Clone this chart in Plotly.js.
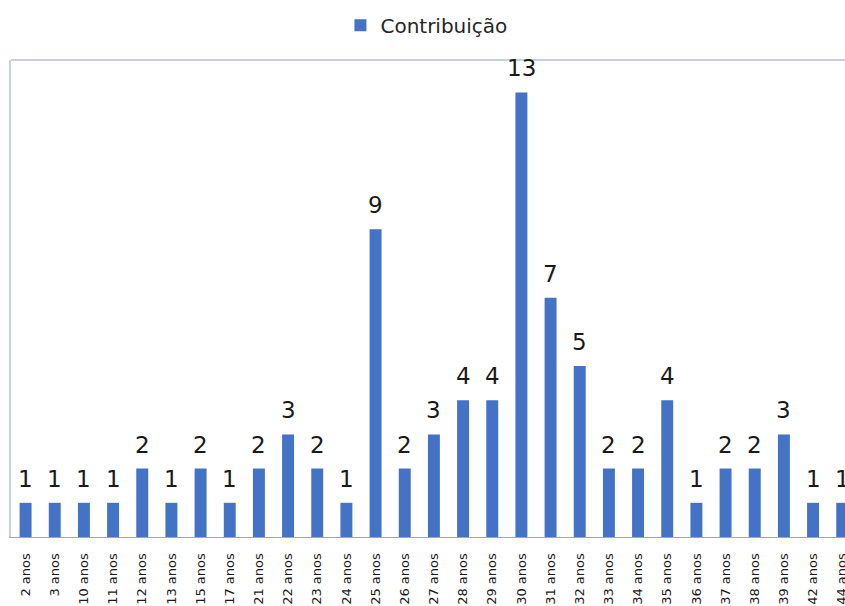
<!DOCTYPE html>
<html>
<head>
<meta charset="utf-8">
<script src="https://cdn.plot.ly/plotly-3.0.1.min.js"></script>
<style>html,body{margin:0;padding:0;background:#fff;overflow:hidden;}</style>
</head>
<body>
<div id="chart" style="width:845px;height:606px;"></div>
<script>
const categories = ["2 anos","3 anos","10 anos","11 anos","12 anos","13 anos","15 anos","17 anos","21 anos","22 anos","23 anos","24 anos","25 anos","26 anos","27 anos","28 anos","29 anos","30 anos","31 anos","32 anos","33 anos","34 anos","35 anos","36 anos","37 anos","38 anos","39 anos","42 anos","44 anos"];
const values = [1,1,1,1,2,1,2,1,2,3,2,1,9,2,3,4,4,13,7,5,2,2,4,1,2,2,3,1,1];
const seriesName = "Contribuição";

const trace = {
  type: "bar",
  x: categories,
  y: values,
  name: seriesName,
  marker: {color: "#4472C4"},
  hoverinfo: "x+y"
};

const labels = categories.map((c, i) => ({
  x: c, y: values[i], text: String(values[i]),
  xref: "x", yref: "y", showarrow: false,
  yanchor: "bottom", yshift: 9,
  font: {family: "DejaVu Sans", size: 23, color: "#1a1a1a"}
}));

const layout = {
  width: 845, height: 606,
  margin: {l: 11, r: 0, t: 60, b: 69},
  paper_bgcolor: "#ffffff", plot_bgcolor: "#ffffff",
  bargap: 0.59,
  showlegend: true,
  legend: {
    orientation: "h", x: 0.395, xanchor: "left", y: 1.073, yanchor: "middle",
    font: {family: "DejaVu Sans", size: 20, color: "#262626"}
  },
  xaxis: {
    type: "category",
    range: [-0.5, 28.095],
    tickangle: -90,
    ticks: "",
    ticklabelstandoff: 10,
    tickfont: {family: "DejaVu Sans", size: 13, color: "#1a1a1a"},
    showline: true, linecolor: "#a6a6a6", linewidth: 1,
    showgrid: false, zeroline: false, fixedrange: true
  },
  yaxis: {
    range: [0, 13.95],
    showticklabels: false, ticks: "",
    showgrid: false, zeroline: false,
    showline: true, linecolor: "#c6d1e2", linewidth: 2,
    fixedrange: true
  },
  shapes: [{
    type: "line", xref: "paper", yref: "paper",
    x0: 0, x1: 1, y0: 1, y1: 1,
    line: {color: "#c6d1e2", width: 2}
  }],
  annotations: labels
};

Plotly.newPlot("chart", [trace], layout, {displayModeBar: false, responsive: false});
</script>
</body>
</html>
